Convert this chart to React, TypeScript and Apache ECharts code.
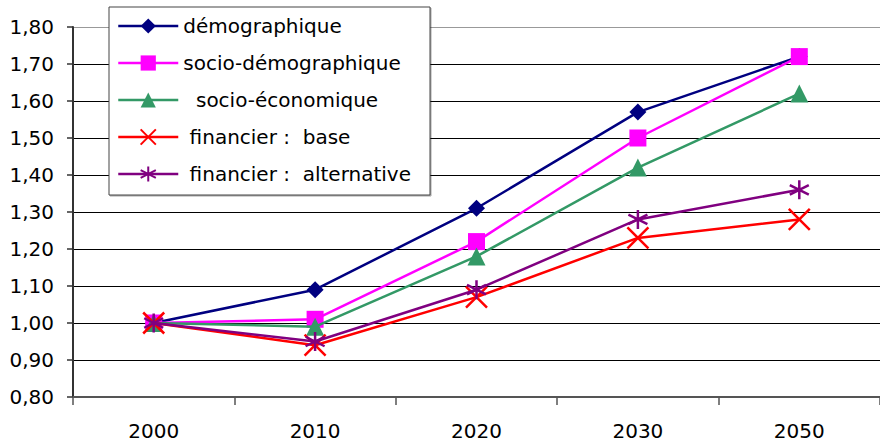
import React, { useEffect, useRef } from "react";
import * as echarts from "echarts";

const categories = ["2000", "2010", "2020", "2030", "2050"];
const seriesNames = [
  "démographique",
  "socio-démographique",
  "socio-économique",
  "financier :  base",
  "financier :  alternative",
];
const legendLabels = [
  "démographique",
  "socio-démographique",
  "  socio-économique",
  " financier :  base",
  " financier :  alternative",
];
const demographique = [1.0, 1.09, 1.31, 1.57, 1.72];
const socioDemographique = [1.0, 1.01, 1.22, 1.5, 1.72];
const socioEconomique = [1.0, 0.99, 1.18, 1.42, 1.62];
const financierBase = [1.0, 0.94, 1.07, 1.23, 1.28];
const financierAlternative = [1.0, 0.95, 1.09, 1.28, 1.36];
const colors = ["#000080", "#FF00FF", "#339966", "#FF0000", "#800080"];

const CROSS = "path://M0,0L10,10M10,0L0,10";
const STAR = "path://M5,0L5,10M0.7,2.5L9.3,7.5M0.7,7.5L9.3,2.5";

const FONT = "DejaVu Sans";

export default function App() {
  const ref = useRef<HTMLDivElement>(null);
  useEffect(() => {
    if (!ref.current) return;
    const chart = echarts.init(ref.current, undefined, { renderer: "svg" });
    const values = [
      demographique,
      socioDemographique,
      socioEconomique,
      financierBase,
      financierAlternative,
    ];
    const symbols = ["diamond", "rect", "triangle", CROSS, STAR];
    const sizes = [17, 17, 18, 21, 19];
    const series = values.map((v, i) => {
      const isPath = i >= 3;
      return {
        type: "line",
        name: seriesNames[i],
        data: v,
        symbol: symbols[i],
        symbolSize: sizes[i],
        showAllSymbol: true,
        lineStyle: { color: colors[i], width: 2.5 },
        itemStyle: isPath
          ? { color: colors[i], borderColor: colors[i], borderWidth: 2.5 }
          : { color: colors[i], borderWidth: 0 },
        emphasis: { disabled: true },
        z: 3 + i,
      };
    });
    chart.setOption({
      animation: false,
      color: colors,
      textStyle: { fontFamily: FONT },
      grid: { left: 73, top: 27, right: -9, bottom: 51, containLabel: false },
      legend: {
        orient: "vertical",
        left: 109,
        top: 7,
        padding: [9, 19, 11, 8],
        itemGap: 17,
        itemWidth: 60,
        itemHeight: 19,
        backgroundColor: "#ffffff",
        borderColor: "#444",
        borderWidth: 1,
        shadowColor: "rgba(0,0,0,0.35)",
        shadowOffsetX: 1,
        shadowOffsetY: 1,
        shadowBlur: 0,
        data: seriesNames,
        lineStyle: { width: 2.5 },
        formatter: (name: string) => legendLabels[seriesNames.indexOf(name)],
        textStyle: { fontFamily: FONT, fontSize: 20, color: "#000", lineHeight: 20 },
        selectedMode: false,
        z: 10,
      },
      xAxis: {
        type: "category",
        data: categories,
        boundaryGap: true,
        axisLine: { lineStyle: { color: "#555", width: 2 } },
        axisTick: { show: true, inside: false, length: 8, lineStyle: { color: "#555", width: 1.5 } },
        axisLabel: { color: "#000", fontFamily: FONT, fontSize: 20, margin: 24 },
        splitLine: { show: false },
      },
      yAxis: {
        type: "value",
        min: 0.8,
        max: 1.8,
        interval: 0.1,
        axisLine: { show: true, lineStyle: { color: "#333", width: 2 } },
        axisTick: { show: true, length: 6, lineStyle: { color: "#333", width: 1.5 } },
        axisLabel: {
          color: "#000",
          fontFamily: FONT,
          fontSize: 20,
          margin: 19,
          formatter: (v: number) => v.toFixed(2).replace(".", ","),
        },
        splitLine: {
          show: true,
          lineStyle: {
            color: ["#000", "#000", "#000", "#000", "#000", "#000", "#000", "#000", "#000", "#000", "#999"],
            width: 1,
          },
        },
      },
      series,
    });
    return () => chart.dispose();
  }, []);
  return (
    <div
      ref={ref}
      style={{ position: "absolute", left: 0, top: 0, width: 880, height: 448, background: "#fff" }}
    />
  );
}
